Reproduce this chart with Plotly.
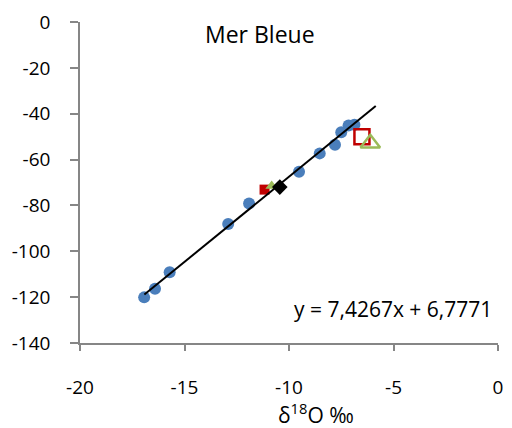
import plotly.graph_objects as go

# Data
blue_x = [-16.93, -16.41, -15.71, -12.91, -11.91, -9.52, -8.53, -7.80, -7.50, -7.15, -6.87]
blue_y = [-120.1, -116.3, -109.1, -88.1, -79.2, -65.3, -57.3, -53.5, -48.1, -45.1, -44.8]

red_fill_x = [-11.17]
red_fill_y = [-73.1]
green_fill_x = [-10.83]
green_fill_y = [-71.5]
diamond_x = [-10.44]
diamond_y = [-72.0]
red_open_x = [-6.51]
red_open_y = [-50.0]
green_open_x = [-6.11]
green_open_y = [-52.9]

slope = 7.4267
intercept = 6.7771
line_x = [-16.92, -5.85]
line_y = [slope * v + intercept for v in line_x]

x_ticks = [-20, -15, -10, -5, 0]
y_ticks = [0, -20, -40, -60, -80, -100, -120, -140]

FONT = "'Open Sans', sans-serif"
AXIS = "#868686"

L, R, T, B = 80, 503, 20, 343
def px(x):
    return (x - L) / (R - L)
def py(y):
    return 1 - (y - T) / (B - T)

fig = go.Figure()
fig.add_trace(go.Scatter(x=blue_x, y=blue_y, mode="markers",
                         marker=dict(symbol="circle", size=12, color="#4A7EBB")))
fig.add_trace(go.Scatter(x=red_fill_x, y=red_fill_y, mode="markers",
                         marker=dict(symbol="square", size=10, color="#C00000")))
fig.add_trace(go.Scatter(x=green_fill_x, y=green_fill_y, mode="markers",
                         marker=dict(symbol="triangle-up", size=11, color="#9BBB59")))
fig.add_trace(go.Scatter(x=diamond_x, y=diamond_y, mode="markers",
                         marker=dict(symbol="diamond", size=12, color="black")))
fig.add_trace(go.Scatter(x=red_open_x, y=red_open_y, mode="markers",
                         marker=dict(symbol="square-open", size=15, color="#C00000",
                                     line=dict(width=2.5, color="#C00000"))))
fig.add_trace(go.Scatter(x=green_open_x, y=green_open_y, mode="markers",
                         marker=dict(symbol="triangle-up-open", size=17, color="#9BBB59",
                                     line=dict(width=2.5, color="#9BBB59"))))
fig.add_trace(go.Scatter(x=line_x, y=line_y, mode="lines",
                         line=dict(color="black", width=2)))

fig.update_layout(
    width=512, height=428,
    margin=dict(l=L, r=512 - R, t=T, b=428 - B),
    paper_bgcolor="white", plot_bgcolor="white",
    showlegend=False,
    font=dict(family=FONT, size=19, color="black"),
    xaxis=dict(range=[-20, 0], tickvals=x_ticks, ticktext=[str(v) for v in x_ticks],
               showgrid=False, zeroline=False, showline=True, linecolor=AXIS, linewidth=1.5,
               ticks="outside", ticklen=6, tickcolor=AXIS, tickwidth=1.5,
               ticklabelstandoff=20),
    yaxis=dict(range=[-140, 0], tickvals=y_ticks, ticktext=[str(v) for v in y_ticks],
               showgrid=False, zeroline=False, showline=True, linecolor=AXIS, linewidth=1.5,
               ticks="outside", ticklen=8, tickcolor=AXIS, tickwidth=1.5,
               ticklabelstandoff=16),
    annotations=[
        dict(text="Mer Bleue", xref="paper", yref="paper", x=px(262), y=py(32),
             xanchor="center", yanchor="middle", showarrow=False, font=dict(size=23)),
        dict(text="y = 7,4267x + 6,7771", xref="paper", yref="paper", x=px(397),
             y=py(309), xanchor="center", yanchor="middle", showarrow=False,
             font=dict(size=21)),
        dict(text="δ<sup>18</sup>O ‰", xref="paper", yref="paper", x=px(319),
             y=py(414), xanchor="center", yanchor="middle", showarrow=False,
             font=dict(size=21)),
    ],
)

fig.write_html("out.html")
